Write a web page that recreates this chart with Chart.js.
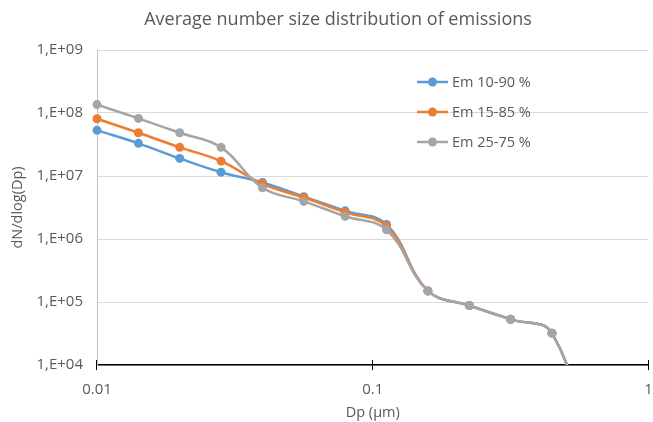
<!DOCTYPE html>
<html>
<head>
<meta charset="utf-8">
<script src="https://cdn.jsdelivr.net/npm/chart.js@4.4.1/dist/chart.umd.min.js"></script>
<style>
  html, body { margin: 0; padding: 0; background: #fff; }
  #wrap { width: 653px; height: 422px; position: relative; }
</style>
</head>
<body>
<div id="wrap"><canvas id="grafica" width="653" height="422"></canvas></div>
<script>
// Diámetros de partícula (µm)
var dp = [0.01, 0.01413, 0.01995, 0.02818, 0.03981, 0.05623, 0.07943, 0.1122, 0.1585, 0.2239, 0.3162, 0.4467, 0.631];

// Series
var em1090 = [5.3e7, 3.3e7, 1.9e7, 1.15e7, 7.9e6, 4.7e6, 2.8e6, 1.7e6, 1.5e5, 8.8e4, 5.3e4, 3.2e4, 3e2];
var em1585 = [8.1e7, 4.85e7, 2.85e7, 1.72e7, 7.5e6, 4.55e6, 2.65e6, 1.6e6, 1.5e5, 8.8e4, 5.3e4, 3.2e4, 3e2];
var em2575 = [1.36e8, 8.2e7, 4.85e7, 2.85e7, 6.5e6, 3.95e6, 2.3e6, 1.4e6, 1.5e5, 8.8e4, 5.3e4, 3.2e4, 3e2];

var etiquetas = ['Em 10-90 %', 'Em 15-85 %', 'Em 25-75 %'];
var colores = ['#5B9BD5', '#ED7D31', '#A5A5A5'];
var ticksX = [0.01, 0.1, 1];
var ticksY = [1e4, 1e5, 1e6, 1e7, 1e8, 1e9];

var titulo = 'Average number size distribution of emissions';
var fuente = "'Open Sans', 'Liberation Sans', sans-serif";
var gris = '#595959';

function puntos(valores) {
    return dp.map(function (x, i) { return { x: x, y: valores[i] }; });
}

function serie(i, valores) {
    return {
        label: etiquetas[i],
        data: puntos(valores),
        borderColor: colores[i],
        backgroundColor: colores[i],
        borderWidth: 2.5,
        pointRadius: 4.5,
        pointBorderWidth: 0,
        pointBackgroundColor: colores[i],
        tension: 0.4,
        order: 3 - i,
        clip: { left: 8, top: 8, right: 8, bottom: 0 }
    };
}

// Título, leyenda y marcas del eje X dibujados a mano
var extras = {
    id: 'extras',
    afterDraw: function (chart) {
        var ctx = chart.ctx;
        var area = chart.chartArea;
        var sx = chart.scales.x;
        ctx.save();

        // marcas que cruzan el eje X
        ctx.strokeStyle = '#000';
        ctx.lineWidth = 1;
        ticksX.forEach(function (v) {
            var px = Math.round(sx.getPixelForValue(v)) - 0.5;
            ctx.beginPath();
            ctx.moveTo(px, area.bottom - 5);
            ctx.lineTo(px, area.bottom + 5);
            ctx.stroke();
        });

        // título
        ctx.fillStyle = gris;
        ctx.font = '18px ' + fuente;
        ctx.textAlign = 'center';
        ctx.textBaseline = 'middle';
        ctx.fillText(titulo, 338, 20);

        // leyenda
        ctx.font = '14.5px ' + fuente;
        ctx.textAlign = 'left';
        for (var i = 0; i < etiquetas.length; i++) {
            var y = 82 + i * 30;
            ctx.strokeStyle = colores[i];
            ctx.lineWidth = 2.5;
            ctx.beginPath();
            ctx.moveTo(417, y);
            ctx.lineTo(448, y);
            ctx.stroke();
            ctx.fillStyle = colores[i];
            ctx.beginPath();
            ctx.arc(432.5, y, 4.5, 0, Math.PI * 2);
            ctx.fill();
            ctx.fillStyle = gris;
            ctx.fillText(etiquetas[i], 452, y + 1);
        }
        ctx.restore();
    }
};

var ctx = document.getElementById('grafica').getContext('2d');
var grafica = new Chart(ctx, {
    type: 'line',
    data: {
        datasets: [serie(0, em1090), serie(1, em1585), serie(2, em2575)]
    },
    options: {
        responsive: false,
        animation: false,
        devicePixelRatio: 1,
        layout: { padding: { top: 50, right: 3, left: 0, bottom: 0 } },
        plugins: {
            legend: { display: false },
            title: { display: false },
            tooltip: { enabled: false }
        },
        scales: {
            x: {
                type: 'logarithmic',
                min: 0.01,
                max: 1,
                afterBuildTicks: function (s) {
                    s.ticks = ticksX.map(function (v) { return { value: v }; });
                },
                afterFit: function (s) {
                    s.height = 57;
                    s.paddingLeft = 0;
                    s.paddingRight = 0;
                },
                grid: { display: false, drawTicks: false },
                border: { display: true, color: '#000', width: 1.5 },
                ticks: {
                    color: gris,
                    font: { family: fuente, size: 15 },
                    padding: 16,
                    maxRotation: 0,
                    autoSkip: false,
                    callback: function (v) { return String(v); }
                },
                title: {
                    display: true,
                    text: 'Dp (µm)',
                    color: gris,
                    font: { family: fuente, size: 14.5 },
                    padding: { top: 0, bottom: 0 }
                }
            },
            y: {
                type: 'logarithmic',
                min: 1e4,
                max: 1e9,
                afterBuildTicks: function (s) {
                    s.ticks = ticksY.map(function (v) { return { value: v }; });
                },
                afterFit: function (s) {
                    s.width = 97;
                    s.paddingTop = 0;
                    s.paddingBottom = 0;
                },
                grid: { color: '#d9d9d9', lineWidth: 1, drawTicks: false },
                border: { display: true, color: '#bfbfbf', width: 1 },
                ticks: {
                    color: gris,
                    font: { family: fuente, size: 15 },
                    padding: 14,
                    autoSkip: false,
                    callback: function (v) {
                        var e = Math.round(Math.log10(v));
                        return '1,E+' + (e < 10 ? '0' + e : e);
                    }
                },
                title: {
                    display: true,
                    text: 'dN/dlog(Dp)',
                    color: gris,
                    font: { family: fuente, size: 14.5 },
                    padding: { top: 9, bottom: 4 }
                }
            }
        }
    },
    plugins: [extras]
});
</script>
</body>
</html>
